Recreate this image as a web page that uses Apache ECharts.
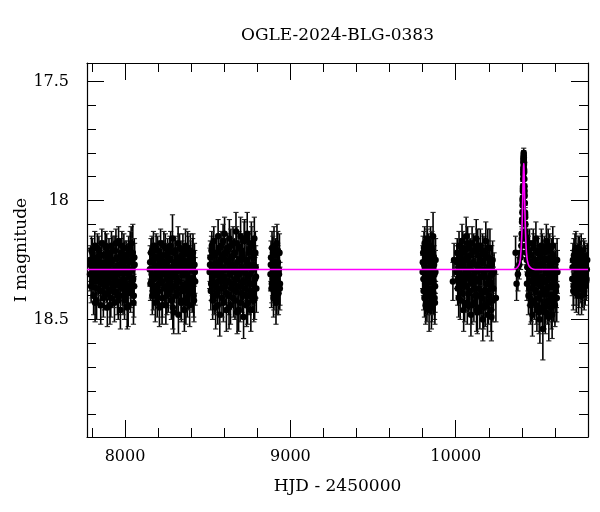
<!DOCTYPE html>
<html>
<head>
<meta charset="utf-8">
<script src="https://cdn.jsdelivr.net/npm/echarts@6/dist/echarts.min.js"></script>
<style>
html,body{margin:0;padding:0;background:#fff;}
#chart{width:600px;height:512px;}
</style>
</head>
<body>
<div id="chart"></div>
<script>
// ---- data: [HJD-2450000, I mag, error] ----
const season2017 = [
[7788,18.31,0.07],[7792,18.25,0.06],[7795,18.36,0.07],[7799,18.28,0.06],[7803,18.22,0.06],[7806,18.33,0.07],[7810,18.40,0.08],[7813,18.27,0.06],[7817,18.19,0.06],[7821,18.34,0.07],[7824,18.30,0.06],[7828,18.42,0.08],[7831,18.24,0.06],[7835,18.29,0.06],[7839,18.37,0.07],[7842,18.21,0.06],[7846,18.32,0.07],[7849,18.26,0.06],[7853,18.44,0.08],[7857,18.30,0.06],[7860,18.18,0.06],[7864,18.35,0.07],[7867,18.28,0.06],[7871,18.23,0.06],[7875,18.39,0.07],[7878,18.31,0.06],[7882,18.26,0.06],[7885,18.33,0.07],[7889,18.20,0.06],[7893,18.45,0.08],[7896,18.29,0.06],[7900,18.34,0.07],[7903,18.22,0.06],[7907,18.38,0.07],[7911,18.27,0.06],[7914,18.41,0.08],[7918,18.19,0.06],[7921,18.32,0.07],[7925,18.25,0.06],[7929,18.36,0.07],[7932,18.30,0.06],[7936,18.43,0.08],[7939,18.21,0.06],[7943,18.28,0.06],[7947,18.35,0.07],[7950,18.24,0.06],[7954,18.40,0.08],[7957,18.31,0.06],[7961,18.17,0.06],[7965,18.34,0.07],[7968,18.27,0.06],[7972,18.46,0.08],[7975,18.22,0.06],[7979,18.30,0.06],[7983,18.37,0.07],[7986,18.25,0.06],[7990,18.33,0.07],[7993,18.20,0.06],[7997,18.42,0.08],[8001,18.29,0.06],[8004,18.35,0.07],[8008,18.23,0.06],[8011,18.38,0.07],[8015,18.28,0.06],[8019,18.44,0.09],[8022,18.21,0.06],[8026,18.32,0.07],[8029,18.26,0.06],[8033,18.39,0.08],[8037,18.18,0.07],[8040,18.34,0.07],[8044,18.29,0.07],[8047,18.22,0.12],[8051,18.43,0.09],[8055,18.36,0.08],[8058,18.27,0.09]
];
const season2017b = [
[7790,18.27,0.07],[7797,18.21,0.06],[7801,18.34,0.07],[7808,18.25,0.06],[7815,18.31,0.07],[7819,18.43,0.08],[7826,18.28,0.06],[7833,18.20,0.06],[7837,18.33,0.07],[7844,18.26,0.06],[7851,18.38,0.07],[7855,18.23,0.06],[7862,18.32,0.07],[7869,18.41,0.08],[7873,18.27,0.06],[7880,18.19,0.06],[7887,18.36,0.07],[7891,18.29,0.06],[7898,18.24,0.06],[7905,18.31,0.07],[7909,18.44,0.08],[7916,18.26,0.06],[7923,18.35,0.07],[7927,18.21,0.06],[7934,18.38,0.07],[7941,18.33,0.07],[7945,18.18,0.06],[7952,18.29,0.06],[7959,18.42,0.08],[7963,18.24,0.06],[7970,18.35,0.07],[7977,18.27,0.06],[7981,18.19,0.06],[7988,18.40,0.08],[7995,18.30,0.07],[7999,18.23,0.06],[8006,18.36,0.07],[8013,18.45,0.09],[8017,18.25,0.07],[8024,18.31,0.07],[8031,18.20,0.07],[8035,18.37,0.08],[8042,18.26,0.07],[8049,18.33,0.08],[8053,18.40,0.09],[8056,18.24,0.08]
];
const season2018 = [
[8150,18.29,0.07],[8154,18.35,0.07],[8157,18.22,0.06],[8161,18.31,0.07],[8165,18.40,0.08],[8168,18.26,0.06],[8172,18.19,0.06],[8175,18.33,0.07],[8179,18.28,0.06],[8183,18.43,0.08],[8186,18.24,0.06],[8190,18.36,0.07],[8193,18.30,0.06],[8197,18.21,0.06],[8201,18.38,0.07],[8204,18.27,0.06],[8208,18.45,0.08],[8211,18.32,0.07],[8215,18.18,0.06],[8219,18.34,0.07],[8222,18.25,0.06],[8226,18.41,0.08],[8229,18.29,0.06],[8233,18.23,0.06],[8237,18.37,0.07],[8240,18.31,0.06],[8244,18.20,0.06],[8247,18.44,0.08],[8251,18.27,0.06],[8255,18.33,0.07],[8258,18.22,0.06],[8262,18.39,0.08],[8265,18.30,0.06],[8269,18.25,0.06],[8273,18.35,0.07],[8276,18.19,0.06],[8280,18.42,0.08],[8283,18.28,0.06],[8287,18.16,0.10],[8291,18.32,0.07],[8294,18.47,0.09],[8298,18.26,0.06],[8301,18.36,0.07],[8305,18.21,0.06],[8309,18.30,0.06],[8312,18.40,0.08],[8316,18.24,0.06],[8319,18.34,0.07],[8323,18.48,0.08],[8327,18.29,0.06],[8330,18.20,0.06],[8334,18.37,0.07],[8337,18.27,0.06],[8341,18.43,0.08],[8345,18.23,0.06],[8348,18.31,0.07],[8352,18.38,0.07],[8355,18.25,0.06],[8359,18.46,0.09],[8363,18.30,0.07],[8366,18.19,0.07],[8370,18.35,0.07],[8373,18.28,0.07],[8377,18.41,0.08],[8381,18.22,0.07],[8384,18.33,0.07],[8388,18.26,0.07],[8391,18.44,0.09],[8395,18.21,0.07],[8399,18.36,0.08],[8402,18.29,0.07],[8406,18.39,0.08],[8409,18.24,0.08],[8413,18.33,0.08],[8417,18.42,0.09],[8420,18.27,0.09],[8424,18.34,0.10]
];
const season2018b = [
[8152,18.26,0.07],[8159,18.34,0.07],[8163,18.21,0.06],[8170,18.38,0.08],[8177,18.24,0.06],[8181,18.31,0.07],[8188,18.20,0.06],[8195,18.41,0.08],[8199,18.28,0.06],[8206,18.35,0.07],[8213,18.23,0.06],[8217,18.30,0.07],[8224,18.44,0.08],[8231,18.26,0.06],[8235,18.19,0.06],[8242,18.36,0.07],[8249,18.29,0.06],[8253,18.40,0.08],[8260,18.24,0.06],[8267,18.33,0.07],[8271,18.21,0.06],[8278,18.37,0.07],[8285,18.30,0.07],[8289,18.45,0.09],[8296,18.22,0.06],[8303,18.32,0.07],[8307,18.27,0.06],[8314,18.39,0.08],[8321,18.18,0.07],[8325,18.34,0.07],[8332,18.25,0.06],[8339,18.42,0.08],[8343,18.29,0.07],[8350,18.21,0.07],[8357,18.36,0.08],[8361,18.26,0.07],[8368,18.43,0.09],[8375,18.31,0.07],[8379,18.20,0.07],[8386,18.38,0.08],[8393,18.28,0.07],[8397,18.24,0.07],[8404,18.35,0.08],[8411,18.22,0.08],[8415,18.40,0.09],[8422,18.30,0.09]
];
const season2019 = [
[8512,18.30,0.07],[8516,18.24,0.07],[8519,18.38,0.08],[8523,18.21,0.06],[8527,18.33,0.07],[8530,18.42,0.08],[8534,18.27,0.06],[8537,18.17,0.06],[8541,18.35,0.07],[8545,18.29,0.06],[8548,18.45,0.09],[8552,18.22,0.06],[8555,18.31,0.07],[8559,18.39,0.08],[8563,18.15,0.07],[8566,18.34,0.07],[8570,18.26,0.06],[8573,18.48,0.09],[8577,18.30,0.06],[8581,18.19,0.06],[8584,18.37,0.07],[8588,18.28,0.06],[8591,18.23,0.06],[8595,18.43,0.08],[8599,18.32,0.07],[8602,18.14,0.07],[8606,18.36,0.07],[8609,18.25,0.06],[8613,18.46,0.09],[8617,18.29,0.06],[8620,18.20,0.06],[8624,18.34,0.07],[8627,18.40,0.08],[8631,18.16,0.08],[8635,18.31,0.07],[8638,18.44,0.08],[8642,18.24,0.06],[8645,18.35,0.07],[8649,18.27,0.06],[8653,18.18,0.07],[8656,18.41,0.08],[8660,18.30,0.06],[8663,18.22,0.06],[8667,18.38,0.08],[8671,18.13,0.08],[8674,18.33,0.07],[8678,18.47,0.09],[8681,18.26,0.06],[8685,18.36,0.07],[8689,18.20,0.07],[8692,18.31,0.07],[8696,18.43,0.08],[8699,18.15,0.08],[8703,18.28,0.07],[8707,18.39,0.08],[8710,18.23,0.07],[8714,18.34,0.07],[8717,18.49,0.09],[8721,18.17,0.08],[8725,18.30,0.07],[8728,18.37,0.08],[8732,18.25,0.07],[8735,18.44,0.09],[8739,18.14,0.09],[8743,18.32,0.08],[8746,18.27,0.07],[8750,18.40,0.08],[8753,18.21,0.08],[8757,18.35,0.08],[8761,18.46,0.09],[8764,18.18,0.09],[8768,18.29,0.08],[8771,18.38,0.09],[8775,18.24,0.08],[8779,18.42,0.09],[8782,18.16,0.09],[8786,18.33,0.09],[8790,18.28,0.09],[8794,18.37,0.10]
];
const season2019b = [
[8514,18.27,0.07],[8521,18.35,0.07],[8525,18.19,0.06],[8532,18.31,0.07],[8539,18.40,0.08],[8543,18.23,0.06],[8550,18.36,0.07],[8557,18.27,0.06],[8561,18.44,0.08],[8568,18.20,0.06],[8575,18.32,0.07],[8579,18.25,0.06],[8586,18.41,0.08],[8593,18.17,0.07],[8597,18.34,0.07],[8604,18.29,0.06],[8611,18.22,0.06],[8615,18.39,0.08],[8622,18.26,0.06],[8629,18.45,0.09],[8633,18.31,0.07],[8640,18.19,0.07],[8647,18.37,0.07],[8651,18.28,0.06],[8658,18.23,0.07],[8665,18.42,0.08],[8669,18.33,0.07],[8676,18.18,0.07],[8683,18.30,0.07],[8687,18.46,0.09],[8694,18.25,0.07],[8701,18.36,0.08],[8705,18.21,0.07],[8712,18.40,0.08],[8719,18.29,0.07],[8723,18.16,0.08],[8730,18.34,0.08],[8737,18.26,0.07],[8741,18.43,0.09],[8748,18.22,0.08],[8755,18.31,0.08],[8759,18.38,0.08],[8766,18.19,0.08],[8773,18.35,0.09],[8777,18.27,0.08],[8784,18.41,0.09],[8788,18.22,0.09],[8792,18.32,0.09]
];
const season2020 = [
[8880,18.31,0.07],[8883,18.24,0.07],[8886,18.37,0.08],[8889,18.20,0.07],[8892,18.33,0.07],[8895,18.27,0.07],[8898,18.41,0.08],[8901,18.19,0.08],[8904,18.30,0.07],[8907,18.36,0.08],[8910,18.23,0.07],[8913,18.43,0.09],[8916,18.28,0.07],[8919,18.18,0.08],[8922,18.34,0.08],[8925,18.26,0.07],[8928,18.39,0.09],[8931,18.31,0.08],[8934,18.22,0.08],[8937,18.35,0.09],
[8882,18.27,0.07],[8888,18.35,0.08],[8894,18.22,0.07],[8900,18.38,0.08],[8906,18.26,0.07],[8912,18.32,0.08],[8918,18.40,0.08],[8924,18.21,0.08],[8930,18.29,0.08],[8936,18.37,0.09]
];
const season2022 = [
[9800,18.30,0.07],[9803,18.22,0.07],[9806,18.38,0.08],[9809,18.27,0.07],[9812,18.18,0.07],[9815,18.35,0.07],[9818,18.44,0.08],[9821,18.24,0.07],[9824,18.32,0.07],[9827,18.16,0.08],[9830,18.40,0.08],[9833,18.29,0.07],[9836,18.21,0.07],[9839,18.46,0.09],[9842,18.33,0.07],[9845,18.26,0.07],[9848,18.19,0.08],[9851,18.37,0.08],[9854,18.30,0.07],[9857,18.42,0.09],[9860,18.23,0.07],[9863,18.15,0.10],[9866,18.34,0.08],[9869,18.27,0.08],[9872,18.41,0.09],[9875,18.36,0.11],[9878,18.25,0.09],
[9801,18.26,0.07],[9805,18.33,0.07],[9808,18.20,0.07],[9811,18.41,0.08],[9814,18.28,0.07],[9817,18.23,0.07],[9820,18.36,0.08],[9823,18.30,0.07],[9826,18.43,0.08],[9829,18.19,0.07],[9832,18.34,0.07],[9835,18.25,0.07],[9838,18.38,0.08],[9841,18.22,0.07],[9844,18.31,0.07],[9847,18.40,0.08],[9850,18.26,0.07],[9853,18.45,0.09],[9856,18.21,0.08],[9859,18.33,0.08],[9862,18.28,0.08],[9865,18.39,0.09],[9868,18.24,0.08],[9871,18.31,0.08],[9874,18.43,0.09],[9877,18.30,0.09]
];
const season2023 = [
[9983,18.34,0.08],[9990,18.25,0.07],[10005,18.30,0.07],[10009,18.22,0.06],[10012,18.37,0.07],[10016,18.28,0.06],[10020,18.19,0.06],[10023,18.34,0.07],[10027,18.42,0.08],[10030,18.25,0.06],[10034,18.31,0.07],[10038,18.17,0.07],[10041,18.39,0.08],[10045,18.27,0.06],[10048,18.46,0.09],[10052,18.22,0.06],[10056,18.33,0.07],[10059,18.29,0.06],[10063,18.15,0.08],[10066,18.36,0.07],[10070,18.44,0.08],[10074,18.24,0.06],[10077,18.31,0.07],[10081,18.20,0.06],[10084,18.38,0.08],[10088,18.27,0.06],[10092,18.48,0.09],[10095,18.33,0.07],[10099,18.18,0.07],[10102,18.35,0.07],[10106,18.26,0.06],[10110,18.43,0.08],[10113,18.21,0.06],[10117,18.30,0.07],[10120,18.40,0.08],[10124,18.16,0.08],[10128,18.34,0.07],[10131,18.47,0.09],[10135,18.28,0.07],[10138,18.23,0.07],[10142,18.37,0.08],[10146,18.45,0.09],[10149,18.19,0.07],[10153,18.32,0.07],[10156,18.41,0.08],[10160,18.26,0.07],[10164,18.50,0.09],[10167,18.30,0.07],[10171,18.22,0.07],[10174,18.38,0.08],[10178,18.44,0.09],[10182,18.17,0.08],[10185,18.35,0.08],[10189,18.29,0.07],[10192,18.48,0.09],[10196,18.24,0.07],[10200,18.33,0.08],[10203,18.40,0.08],[10207,18.20,0.08],[10210,18.36,0.08],[10214,18.46,0.09],[10218,18.27,0.08],[10221,18.31,0.08],[10225,18.42,0.09],[10232,18.30,0.08],[10243,18.41,0.10]
];
const season2023b = [
[10007,18.26,0.07],[10014,18.33,0.07],[10018,18.41,0.08],[10025,18.22,0.06],[10032,18.36,0.07],[10036,18.28,0.06],[10043,18.20,0.07],[10050,18.34,0.07],[10054,18.43,0.08],[10061,18.25,0.06],[10068,18.31,0.07],[10072,18.18,0.07],[10079,18.39,0.08],[10086,18.29,0.07],[10090,18.23,0.07],[10097,18.44,0.08],[10104,18.32,0.07],[10108,18.21,0.07],[10115,18.37,0.08],[10122,18.27,0.07],[10126,18.46,0.09],[10133,18.19,0.07],[10140,18.33,0.07],[10144,18.25,0.07],[10151,18.40,0.08],[10158,18.29,0.07],[10162,18.21,0.07],[10169,18.45,0.09],[10176,18.32,0.08],[10180,18.24,0.07],[10187,18.38,0.08],[10194,18.20,0.08],[10198,18.43,0.09],[10205,18.28,0.08],[10212,18.35,0.08],[10216,18.49,0.10],[10223,18.25,0.08],[10228,18.37,0.09]
];
const season2024 = [
[10362,18.22,0.07],[10368,18.35,0.07],[10376,18.31,0.07],[10384,18.27,0.06],[10392,18.24,0.05],[10395,18.22,0.05],[10397,18.19,0.05],[10399,18.14,0.05],[10400,18.16,0.05],[10401,18.09,0.04],[10402,18.08,0.04],[10403,18.05,0.04],[10404,18.02,0.04],[10404.5,18.00,0.04],[10405,17.99,0.04],[10406,17.96,0.03],[10406.5,17.95,0.03],[10407,17.94,0.03],[10408,17.91,0.03],[10408.5,17.89,0.03],[10409,17.87,0.03],[10409.5,17.88,0.03],[10409.8,17.86,0.03],[10410,17.84,0.03],[10410.2,17.82,0.02],[10410.5,17.83,0.02],[10411,17.81,0.02],[10411.2,17.80,0.02],[10411.5,17.83,0.02],[10412,17.82,0.02],[10412.2,17.84,0.02],[10412.5,17.85,0.02],[10413,17.84,0.03],[10413.5,17.87,0.03],[10414,17.88,0.03],[10415,17.91,0.03],[10416,17.94,0.03],[10416.5,17.96,0.03],[10417,17.98,0.03],[10418,18.01,0.04],[10419,18.05,0.04],[10419.5,18.06,0.04],[10420,18.07,0.04],[10421,18.10,0.04],[10422,18.13,0.04],[10423,18.16,0.05],[10424,18.15,0.05],[10426,18.19,0.05],[10428,18.22,0.05],[10430,18.25,0.05],
[10431,18.35,0.07],[10434,18.22,0.06],[10437,18.31,0.07],[10440,18.40,0.08],[10443,18.26,0.06],[10446,18.18,0.06],[10449,18.34,0.07],[10452,18.44,0.08],[10455,18.28,0.06],[10458,18.23,0.06],[10461,18.37,0.07],[10464,18.48,0.09],[10467,18.30,0.06],[10470,18.20,0.06],[10473,18.33,0.07],[10476,18.42,0.08],[10479,18.25,0.06],[10482,18.38,0.07],[10485,18.16,0.07],[10488,18.31,0.07],[10491,18.46,0.09],[10494,18.27,0.06],[10497,18.35,0.07],[10500,18.21,0.06],[10503,18.41,0.08],[10506,18.29,0.06],[10509,18.50,0.10],[10512,18.24,0.06],[10515,18.36,0.07],[10518,18.19,0.07],[10521,18.32,0.07],[10524,18.45,0.09],[10527,18.54,0.13],[10530,18.27,0.07],[10533,18.39,0.08],[10536,18.22,0.07],[10539,18.34,0.07],[10542,18.47,0.09],[10545,18.30,0.07],[10548,18.17,0.07],[10551,18.37,0.08],[10554,18.43,0.09],[10557,18.25,0.07],[10560,18.33,0.08],[10563,18.49,0.10],[10566,18.28,0.07],[10569,18.21,0.07],[10572,18.40,0.08],[10575,18.31,0.08],[10578,18.45,0.09],[10581,18.24,0.08],[10584,18.36,0.08],[10587,18.19,0.08],[10590,18.42,0.09],[10594,18.29,0.08],[10598,18.35,0.09],[10602,18.26,0.08],[10606,18.38,0.09],[10611,18.41,0.10],[10615,18.30,0.09]
];
const season2024b = [
[10433,18.28,0.06],[10439,18.21,0.06],[10445,18.37,0.07],[10451,18.26,0.06],[10457,18.43,0.08],[10463,18.31,0.07],[10469,18.18,0.06],[10475,18.35,0.07],[10481,18.29,0.06],[10487,18.44,0.08],[10493,18.22,0.06],[10499,18.33,0.07],[10505,18.47,0.09],[10511,18.27,0.07],[10517,18.39,0.08],[10523,18.21,0.07],[10529,18.34,0.07],[10535,18.45,0.09],[10541,18.25,0.07],[10547,18.38,0.08],[10553,18.30,0.07],[10559,18.19,0.07],[10565,18.42,0.09],[10571,18.27,0.07],[10577,18.36,0.08],[10583,18.48,0.10],[10589,18.23,0.08],[10595,18.33,0.08],[10600,18.44,0.09],[10604,18.29,0.08],[10609,18.36,0.09],[10613,18.25,0.09]
];
const season2025 = [
[10705,18.33,0.07],[10709,18.25,0.07],[10713,18.36,0.08],[10717,18.28,0.07],[10721,18.21,0.07],[10725,18.34,0.07],[10729,18.39,0.08],[10733,18.26,0.07],[10737,18.31,0.07],[10741,18.22,0.07],[10745,18.37,0.08],[10749,18.29,0.07],[10753,18.24,0.07],[10757,18.35,0.08],[10761,18.40,0.08],[10765,18.27,0.07],[10769,18.32,0.07],[10773,18.23,0.07],[10777,18.38,0.08],[10781,18.30,0.07],[10785,18.26,0.07],[10789,18.34,0.08],[10793,18.29,0.07],
[10707,18.28,0.07],[10711,18.38,0.08],[10715,18.23,0.07],[10719,18.33,0.07],[10723,18.27,0.07],[10727,18.20,0.07],[10731,18.36,0.08],[10735,18.30,0.07],[10739,18.25,0.07],[10743,18.40,0.08],[10747,18.22,0.07],[10751,18.32,0.07],[10755,18.28,0.07],[10759,18.21,0.07],[10763,18.34,0.08],[10767,18.37,0.08],[10771,18.26,0.07],[10775,18.31,0.07],[10779,18.24,0.07],[10783,18.36,0.08],[10787,18.29,0.07],[10791,18.33,0.08],[10795,18.25,0.07]
];
// model curve
const modelT = [7770,10340,10368,10383,10390,10395,10398,10401,10404,10406,10408,10410,10411,10412,10414,10416,10418,10421,10424,10428,10434,10443,10458,10480,10800];
const modelM = [18.29,18.29,18.285,18.27,18.25,18.21,18.17,18.11,18.03,17.97,17.90,17.86,17.845,17.85,17.89,17.96,18.03,18.11,18.17,18.22,18.255,18.275,18.285,18.29,18.29];

const titleText = 'OGLE-2024-BLG-0383';
const xTitle = 'HJD - 2450000';
const yTitle = 'I magnitude';

const allPts = [].concat(season2017, season2017b, season2018, season2018b, season2019, season2019b,
  season2020, season2022, season2023, season2023b, season2024, season2024b, season2025);
const modelData = modelT.map((t, i) => [t, modelM[i]]);

const FONT = '"DejaVu Serif", "Liberation Serif", serif';
const chart = echarts.init(document.getElementById('chart'), null, {renderer: 'canvas'});

function errRender(params, api) {
  const t = api.value(0), m = api.value(1), e = api.value(2);
  const a = api.coord([t, m - e]);
  const b = api.coord([t, m + e]);
  const w = 2.6;
  const st = {stroke: '#000', lineWidth: 1.6};
  const cs = {stroke: '#222', lineWidth: 1.1};
  return {
    type: 'group',
    children: [
      {type: 'line', shape: {x1: a[0], y1: a[1], x2: b[0], y2: b[1]}, style: st},
      {type: 'line', shape: {x1: a[0] - w, y1: a[1], x2: a[0] + w, y2: a[1]}, style: cs},
      {type: 'line', shape: {x1: b[0] - w, y1: b[1], x2: b[0] + w, y2: b[1]}, style: cs}
    ]
  };
}

const xMin = 7770, xMax = 10800, yMin = 17.422, yMax = 18.994;
const tickStyle = {color: '#000', width: 1};
function xAxisCfg(pos, showLabel) {
  return {
    type: 'value', position: pos, min: xMin, max: xMax, splitNumber: 3,
    axisLine: {show: true, onZero: false, lineStyle: {color: '#000', width: 1.2}},
    axisTick: {show: true, inside: true, length: 17, lineStyle: tickStyle},
    minorTick: {show: true, splitNumber: 5, length: 9, lineStyle: tickStyle},
    splitLine: {show: false}, minorSplitLine: {show: false},
    axisLabel: {show: showLabel, margin: 12, color: '#000', fontFamily: FONT, fontSize: 16,
      formatter: v => (Math.abs(v % 1000) < 1e-6 ? String(v) : '')}
  };
}
function yAxisCfg(pos, showLabel) {
  return {
    type: 'value', position: pos, inverse: true, min: yMin, max: yMax, splitNumber: 3,
    axisLine: {show: true, onZero: false, lineStyle: {color: '#000', width: 1.2}},
    axisTick: {show: true, inside: true, length: 17, lineStyle: tickStyle},
    minorTick: {show: true, splitNumber: 5, length: 9, lineStyle: tickStyle},
    splitLine: {show: false}, minorSplitLine: {show: false},
    axisLabel: {show: showLabel, margin: 18, color: '#000', fontFamily: FONT, fontSize: 16,
      formatter: v => (Math.abs(v * 2 - Math.round(v * 2)) < 1e-6 ? String(+v.toFixed(1)) : '')}
  };
}

chart.setOption({
  animation: false,
  backgroundColor: '#fff',
  grid: {left: 87, right: 12, top: 63, bottom: 75, containLabel: false},
  xAxis: [xAxisCfg('bottom', true), xAxisCfg('top', false)],
  yAxis: [yAxisCfg('left', true), yAxisCfg('right', false)],
  graphic: [
    {type: 'text', x: 337.5, y: 36, style: {text: titleText, font: '17px ' + FONT, fill: '#000', textAlign: 'center', textVerticalAlign: 'middle'}},
    {type: 'text', x: 337.5, y: 487, style: {text: xTitle, font: '17px ' + FONT, fill: '#000', textAlign: 'center', textVerticalAlign: 'middle'}},
    {type: 'text', x: 22, y: 250, rotation: Math.PI / 2, style: {text: yTitle, font: '17px ' + FONT, fill: '#000', textAlign: 'center', textVerticalAlign: 'middle'}}
  ],
  series: [
    {type: 'custom', xAxisIndex: 0, yAxisIndex: 0, renderItem: errRender, data: allPts,
      encode: {x: 0, y: 1}, clip: true, z: 2, silent: true},
    {type: 'scatter', xAxisIndex: 0, yAxisIndex: 0, data: allPts.map(p => [p[0], p[1]]),
      symbol: 'circle', symbolSize: 6.5, itemStyle: {color: '#000', opacity: 1}, clip: true, z: 3, silent: true},
    {type: 'line', xAxisIndex: 0, yAxisIndex: 0, data: modelData, showSymbol: false, smooth: 0.3,
      lineStyle: {color: '#ff00ff', width: 1.6}, clip: true, z: 4, silent: true}
  ]
});
</script>
</body>
</html>
